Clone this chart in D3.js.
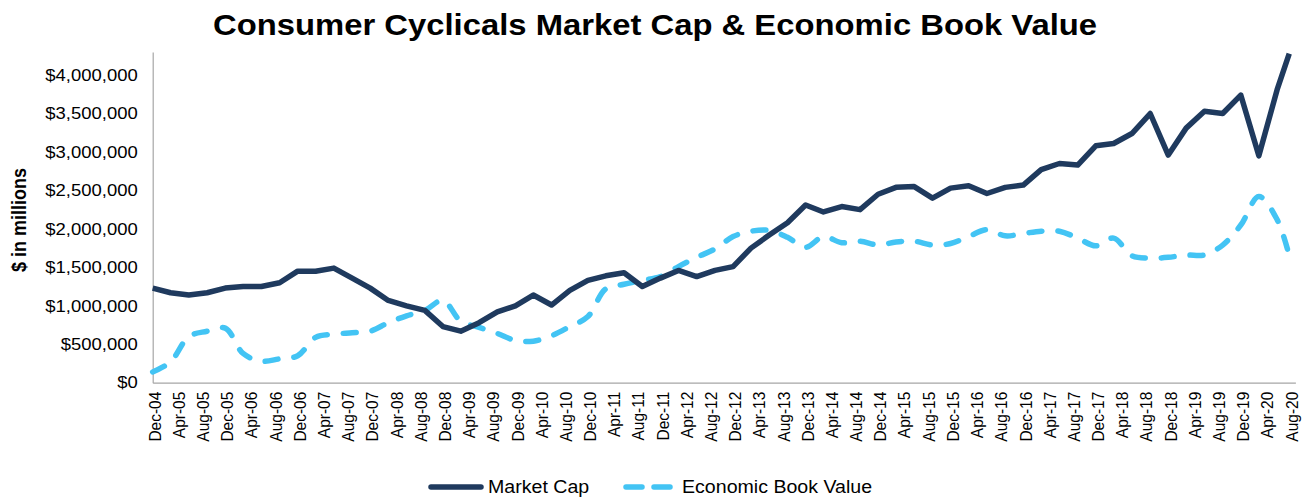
<!DOCTYPE html>
<html>
<head>
<meta charset="utf-8">
<script src="https://cdn.jsdelivr.net/npm/d3@7"></script>
<style>
  body { margin: 0; background: #fff; }
  text { font-family: Arial, "Liberation Sans", sans-serif; }
</style>
</head>
<body>
<div id="chart"></div>
<script>
// 数据：季度日期
const dates = ["Dec-04",
  "Mar-05","Jun-05","Sep-05","Dec-05","Mar-06","Jun-06","Sep-06","Dec-06",
  "Mar-07","Jun-07","Sep-07","Dec-07","Mar-08","Jun-08","Sep-08","Dec-08",
  "Mar-09","Jun-09","Sep-09","Dec-09","Mar-10","Jun-10","Sep-10","Dec-10",
  "Mar-11","Jun-11","Sep-11","Dec-11","Mar-12","Jun-12","Sep-12","Dec-12",
  "Mar-13","Jun-13","Sep-13","Dec-13","Mar-14","Jun-14","Sep-14","Dec-14",
  "Mar-15","Jun-15","Sep-15","Dec-15","Mar-16","Jun-16","Sep-16","Dec-16",
  "Mar-17","Jun-17","Sep-17","Dec-17","Mar-18","Jun-18","Sep-18","Dec-18",
  "Mar-19","Jun-19","Sep-19","Dec-19","Mar-20","Jun-20","Aug-20"];

// 市值 ($ in millions)
const marketCap = [1230000,1170000,1140000,1170000,1230000,1250000,1250000,1300000,1450000,1450000,
  1490000,1360000,1230000,1070000,1000000,940000,730000,670000,780000,920000,
  1000000,1140000,1010000,1200000,1330000,1390000,1430000,1250000,1360000,1460000,
  1380000,1460000,1510000,1750000,1920000,2080000,2310000,2220000,2290000,2250000,
  2450000,2540000,2550000,2400000,2530000,2560000,2460000,2540000,2570000,2770000,
  2850000,2830000,3080000,3110000,3240000,3500000,2960000,3310000,3530000,3500000,
  3740000,2950000,3810000,4280000];

// 经济账面价值
const economicBookValue = [140000,270000,600000,670000,710000,380000,280000,310000,350000,590000,
  630000,650000,670000,780000,870000,940000,1070000,800000,720000,640000,
  550000,540000,610000,730000,860000,1220000,1280000,1330000,1380000,1510000,
  1630000,1740000,1900000,1970000,1980000,1890000,1760000,1900000,1820000,1840000,
  1790000,1830000,1840000,1790000,1810000,1900000,1990000,1910000,1940000,1970000,
  1970000,1880000,1780000,1880000,1650000,1620000,1630000,1660000,1660000,1790000,
  2050000,2420000,2120000,1650000];

// 坐标轴刻度
const xTickLabels = ["Dec-04","Apr-05","Aug-05","Dec-05","Apr-06","Aug-06","Dec-06","Apr-07",
  "Aug-07","Dec-07","Apr-08","Aug-08","Dec-08","Apr-09","Aug-09","Dec-09","Apr-10","Aug-10",
  "Dec-10","Apr-11","Aug-11","Dec-11","Apr-12","Aug-12","Dec-12","Apr-13","Aug-13","Dec-13",
  "Apr-14","Aug-14","Dec-14","Apr-15","Aug-15","Dec-15","Apr-16","Aug-16","Dec-16","Apr-17",
  "Aug-17","Dec-17","Apr-18","Aug-18","Dec-18","Apr-19","Aug-19","Dec-19","Apr-20","Aug-20"];
const yTicks = [0,500000,1000000,1500000,2000000,2500000,3000000,3500000,4000000];

const seriesNames = ["Market Cap", "Economic Book Value"];
const colors = ["#1F3A5E", "#43C4F4"];

const parse = d3.timeParse("%b-%y");
const width = 1310, height = 502;
const S = 1.12; // 原图文字横向略宽

const svg = d3.select("#chart").append("svg")
    .attr("width", width)
    .attr("height", height);

// X轴比例尺（按月份）
const x = d3.scaleTime()
    .domain([parse("Dec-04"), parse("Sep-20")])
    .range([152.7, 1295.4]);

// Y轴比例尺
const y = d3.scaleLinear()
    .domain([0, 4300000])
    .range([382.7, 52]);

// 标题
svg.append("text")
    .attr("transform", `translate(655,35) scale(${S},1)`)
    .attr("text-anchor", "middle")
    .style("font-size", "29.3px")
    .style("font-weight", "bold")
    .text("Consumer Cyclicals Market Cap & Economic Book Value");

// Y轴
const yAxis = svg.append("g")
    .attr("transform", "translate(152.7,0)")
    .call(d3.axisLeft(y).tickValues(yTicks).tickSize(0).tickPadding(15)
        .tickFormat(d => "$" + d3.format(",")(d)));
yAxis.select(".domain").attr("stroke", "#A6A6A6").attr("stroke-width", 1.2);
yAxis.selectAll("text")
    .attr("x", -15 / S)
    .attr("transform", `scale(${S},1)`)
    .style("font-size", "16.5px")
    .attr("fill", "#000");

// Y轴标题
svg.append("text")
    .attr("transform", `translate(26,220) scale(${S},1) rotate(-90)`)
    .attr("text-anchor", "middle")
    .style("font-size", "18px")
    .style("font-weight", "bold")
    .text("$ in millions");

// X轴
const xAxis = svg.append("g")
    .attr("transform", "translate(0,382.7)")
    .call(d3.axisBottom(x).tickValues(xTickLabels.map(parse)).tickSize(0)
        .tickFormat(d3.timeFormat("%b-%y")));
xAxis.select(".domain").attr("stroke", "#A6A6A6").attr("stroke-width", 1.2);
xAxis.selectAll("text")
    .attr("transform", `scale(${S},1) rotate(-90)`)
    .attr("x", -9)
    .attr("y", 1.5)
    .attr("dy", "0.35em")
    .style("text-anchor", "end")
    .style("font-size", "15.5px")
    .attr("fill", "#000");

// 折线
const mcLine = d3.line()
    .x((d, i) => x(parse(dates[i])))
    .y(d => y(d));

const ebvLine = d3.line()
    .x((d, i) => x(parse(dates[i])))
    .y(d => y(d))
    .curve(d3.curveCatmullRom.alpha(0.5));

svg.append("path")
    .datum(economicBookValue)
    .attr("fill", "none")
    .attr("stroke", colors[1])
    .attr("stroke-width", 5.5)
    .attr("stroke-linecap", "round")
    .attr("stroke-dasharray", "13,16")
    .attr("d", ebvLine);

svg.append("path")
    .datum(marketCap)
    .attr("fill", "none")
    .attr("stroke", colors[0])
    .attr("stroke-width", 5.5)
    .attr("stroke-linejoin", "round")
    .attr("d", mcLine);

// 图例
const legendItems = [
    {name: seriesNames[0], color: colors[0], dash: null, x: 431, tx: 488},
    {name: seriesNames[1], color: colors[1], dash: "16,12", x: 626, tx: 682}
];
legendItems.forEach(it => {
    svg.append("line")
        .attr("x1", it.x).attr("x2", it.x + 50)
        .attr("y1", 487).attr("y2", 487)
        .attr("stroke", it.color)
        .attr("stroke-width", 5.5)
        .attr("stroke-linecap", "round")
        .attr("stroke-dasharray", it.dash);
    svg.append("text")
        .attr("transform", `translate(${it.tx},493) scale(${S},1)`)
        .style("font-size", "17.5px")
        .text(it.name);
});
</script>
</body>
</html>
